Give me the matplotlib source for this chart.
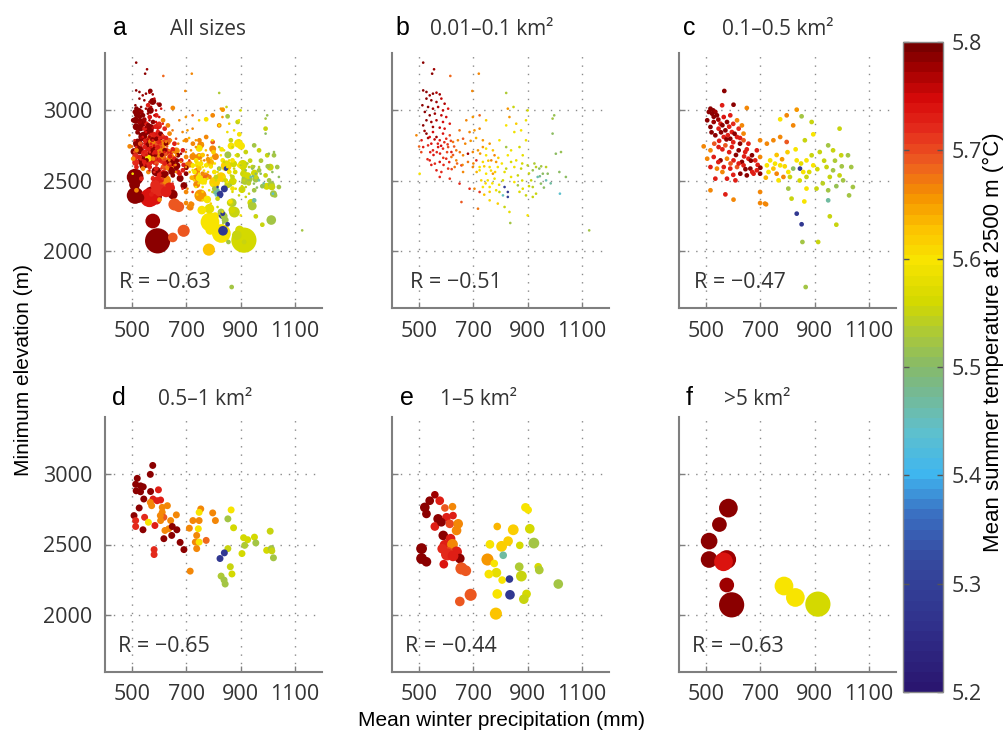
import matplotlib
matplotlib.use('Agg')
import matplotlib.pyplot as plt
from matplotlib.colors import LinearSegmentedColormap, Normalize
from matplotlib.cm import ScalarMappable

plt.rcParams['font.family'] = ['Open Sans', 'DejaVu Sans']

# ---------------- data ----------------
# panel b: 0.01-0.1 km2
prec_b = [515,527,539,551,564,576,527,545,564,582,594,512,533,551,570,588,607,521,539,558,582,600,527,545,564,588,613,515,551,576,594,
          490,509,527,539,551,564,576,588,600,613,625,643,662,686,704,723,649,674,698,723,747,515,533,551,570,588,607,619,637,662,680,698,717,735,
          539,558,576,600,619,637,656,680,711,564,582,607,631,662,698,723,576,613,649,686,704,723,656,717,502,
          735,747,760,772,778,766,784,747,735,723,760,790,747,772,729,753,778,809,735,760,784,760,790,821,833,827,851,796,821,839,827,839,851,821,815,827,827,809,796,833,836,815,
          858,876,894,900,894,870,882,858,876,864,900,919,931,943,937,956,913,882,894,919,931,949,968,992,998,992,1004,1023,1017,1041,1019,900,919,974,968,1127,864,839,851,
          515,555,548,615,720,696,821,848]
elev_b = [3136,3125,3101,3113,3120,3108,3078,3066,3054,3078,3042,3031,3019,3007,3019,2995,3007,2984,2960,2972,2960,2948,2925,2913,2925,2913,2901,2889,2878,2873,2866,
          2819,2784,2831,2807,2842,2807,2784,2831,2795,2819,2772,2784,2795,2842,2854,2866,2854,2925,2948,2960,2925,2736,2748,2713,2736,2725,2736,2701,2713,2678,2689,2701,2713,2736,
          2642,2619,2631,2654,2666,2642,2607,2631,2642,2572,2560,2584,2595,2560,2595,2572,2525,2513,2478,2442,2442,2419,2348,2301,2548,
          2784,2725,2760,2713,2678,2642,2631,2678,2631,2595,2595,2595,2548,2548,2501,2501,2513,2501,2454,2454,2431,2360,2337,2889,2948,3007,2842,2784,2736,2713,2678,2631,2595,2584,2454,2419,2384,2395,2419,2278,2200,2313,
          2901,2854,2925,2995,2784,2736,2678,2642,2584,2536,2607,2572,2595,2584,2525,2548,2501,2442,2395,2454,2407,2478,2501,2937,2960,2831,2689,2701,2560,2525,2407,2254,2384,2548,2595,2148,2466,2525,2489,
          3332,3285,3254,3238,3254,3132,3118,3019]
temp_b = [5.79,5.79,5.78,5.79,5.77,5.78,5.79,5.79,5.78,5.76,5.77,5.79,5.79,5.78,5.77,5.76,5.74,5.79,5.79,5.78,5.76,5.75,5.79,5.78,5.77,5.75,5.73,5.79,5.78,5.76,5.74,
          5.66,5.73,5.79,5.74,5.75,5.78,5.73,5.74,5.72,5.70,5.67,5.66,5.69,5.66,5.65,5.66,5.67,5.66,5.65,5.68,5.62,5.73,5.72,5.73,5.74,5.72,5.70,5.73,5.67,5.66,5.78,5.66,5.65,5.65,
          5.73,5.72,5.74,5.72,5.67,5.66,5.72,5.67,5.72,5.73,5.72,5.71,5.67,5.66,5.66,5.60,5.72,5.71,5.72,5.72,5.66,5.71,5.69,5.67,5.60,
          5.65,5.60,5.65,5.63,5.66,5.66,5.65,5.60,5.61,5.60,5.60,5.60,5.60,5.65,5.61,5.60,5.59,5.56,5.60,5.60,5.59,5.61,5.62,5.60,5.65,5.65,5.59,5.60,5.52,5.59,5.60,5.56,5.59,5.55,5.29,5.28,5.30,5.45,5.55,5.58,5.52,5.55,
          5.62,5.60,5.59,5.56,5.59,5.56,5.58,5.59,5.55,5.55,5.54,5.51,5.54,5.50,5.46,5.50,5.55,5.58,5.55,5.54,5.55,5.50,5.46,5.52,5.51,5.50,5.50,5.51,5.50,5.50,5.44,5.60,5.55,5.50,5.54,5.52,5.52,5.59,5.60,
          5.79,5.78,5.79,5.68,5.66,5.66,5.53,5.55]
# further panel-b glaciers in the dense parts of the cloud
prec_b2 = [520,533,545,557,569,581,593,605,617,629,541,553,565,577,589,603,611,625,640,650,
           508,500,531,545,590,620,660,670,690,710,
           700,712,725,740,755,765,780,792,805,815,745,770,795,760,740,
           880,905,925,950,960,905,880,945,985,870]
elev_b2 = [2850,2800,2760,2790,2760,2745,2770,2755,2780,2740,2700,2680,2700,2690,2660,2700,2630,2680,2620,2700,
           2700,2740,2650,2610,2610,2580,2610,2760,2780,2800,
           2620,2560,2690,2600,2640,2570,2560,2660,2620,2560,2480,2480,2470,2420,2400,
           2620,2550,2620,2600,2450,2460,2500,2530,2480,2420]
temp_b2 = [5.78,5.77,5.74,5.76,5.73,5.75,5.72,5.71,5.70,5.69,5.73,5.74,5.72,5.73,5.71,5.70,5.72,5.69,5.68,5.67,
           5.70,5.68,5.72,5.73,5.72,5.70,5.66,5.66,5.65,5.64,
           5.66,5.64,5.65,5.62,5.63,5.61,5.62,5.62,5.60,5.58,5.61,5.60,5.59,5.62,5.63,
           5.56,5.55,5.53,5.52,5.50,5.56,5.57,5.48,5.47,5.57]
area_b = 0.07

# panel c: 0.1-0.5 km2
prec_c = [567,516,526,534,522,510,559,601,650,540,
          565,589,504,528,553,577,614,632,516,546,
          571,595,620,638,534,565,589,614,638,656,
          491,516,546,571,595,620,644,669,687,504,
          528,553,577,601,632,656,681,699,516,540,
          565,589,614,638,663,687,626,650,675,699,
          534,577,608,516,571,601,699,721,699,724,
          748,773,797,736,754,724,748,773,730,760,
          785,767,803,821,809,834,846,858,870,889,
          895,870,834,852,889,797,773,821,895,864,
          919,950,992,968,998,1023,944,956,968,992,
          1005,1035,1041,1027,950,950,870,862,815,803,
          907,834,852,855,913,956,980,867,699,717]
elev_c = [3132,3007,2995,2984,2972,2984,3031,3035,3012,2960,
          2948,2960,2925,2913,2901,2913,2925,2889,2878,2866,
          2854,2842,2866,2831,2819,2807,2795,2807,2784,2760,
          2741,2713,2736,2748,2736,2713,2701,2678,2713,2654,
          2666,2642,2654,2642,2631,2654,2642,2666,2595,2584,
          2595,2584,2595,2607,2584,2572,2548,2536,2548,2548,
          2513,2513,2501,2431,2402,2365,2341,2332,2784,2760,
          2784,2807,2772,2642,2619,2607,2584,2607,2560,2548,
          2525,2501,2560,2584,2525,2642,2584,2560,2642,2678,
          2607,2525,3000,2953,2913,2960,2932,2889,2826,2784,
          2701,2748,2866,2713,2678,2678,2595,2525,2572,2536,
          2501,2595,2454,2395,2431,2360,2443,2352,2372,2443,
          2443,2266,2191,2066,2066,2247,2188,1748,2419,2337]
temp_c = [5.79,5.79,5.79,5.78,5.79,5.79,5.73,5.79,5.66,5.79,
          5.74,5.73,5.79,5.78,5.73,5.79,5.66,5.66,5.79,5.73,
          5.79,5.73,5.72,5.66,5.79,5.73,5.79,5.73,5.69,5.73,
          5.66,5.66,5.73,5.69,5.73,5.79,5.73,5.79,5.73,5.66,
          5.73,5.79,5.66,5.73,5.79,5.73,5.73,5.66,5.73,5.66,
          5.73,5.73,5.69,5.73,5.79,5.73,5.79,5.79,5.73,5.79,
          5.73,5.73,5.73,5.66,5.73,5.66,5.66,5.66,5.66,5.66,
          5.66,5.66,5.69,5.60,5.60,5.60,5.63,5.60,5.60,5.66,
          5.66,5.60,5.60,5.50,5.55,5.60,5.28,5.60,5.60,5.55,
          5.60,5.55,5.65,5.52,5.55,5.66,5.60,5.66,5.60,5.55,
          5.55,5.52,5.55,5.55,5.55,5.52,5.55,5.55,5.52,5.55,
          5.52,5.52,5.52,5.52,5.52,5.47,5.60,5.60,5.55,5.52,
          5.55,5.28,5.28,5.52,5.55,5.55,5.55,5.52,5.66,5.66]
prec_c2 = [528,545,560,585,600,520,555,580,605,625,548,575,600,625,650,530,560,585,610,640,
           665,690,545,590,620,645,670,700,560,600,
           800,830,760,780,850,880,910,935,975,1000,930,980,845,790,720]
elev_c2 = [2950,2930,2890,2880,2900,2840,2840,2820,2830,2800,2780,2790,2770,2760,2720,2760,2720,2700,2680,2670,
           2640,2610,2630,2620,2620,2580,2560,2590,2560,2540,
           2700,2720,2680,2650,2620,2560,2580,2640,2640,2600,2480,2460,2500,2600,2520]
temp_c2 = [5.79,5.78,5.79,5.73,5.72,5.79,5.79,5.73,5.79,5.73,5.73,5.79,5.73,5.79,5.73,5.69,5.73,5.73,5.79,5.73,
           5.79,5.73,5.73,5.69,5.73,5.79,5.73,5.79,5.66,5.73,
           5.62,5.60,5.63,5.65,5.58,5.57,5.56,5.55,5.53,5.52,5.54,5.51,5.56,5.61,5.64]
area_c = 0.3

# panel d: 0.5-1 km2
prec_d = [576,567,519,513,531,515,531,541,568,597,
          543,577,592,605,526,572,630,507,513,513,
          546,560,540,584,611,617,605,642,621,635,
          648,665,646,617,677,691,581,581,711,724,
          747,753,747,744,738,733,738,747,773,714,
          797,807,865,853,874,911,926,951,915,956,
          1009,905,996,1013,1015,1021,853,840,824,862,
          868,828,839,843,663,611,567,604]
elev_d = [3058,2995,2967,2925,2914,2879,2872,2907,2874,2886,
          2821,2821,2809,2814,2758,2774,2774,2704,2669,2627,
          2692,2657,2604,2634,2727,2692,2669,2669,2599,2611,
          2627,2604,2564,2541,2515,2464,2464,2429,2615,2669,
          2669,2751,2727,2611,2564,2517,2471,2517,2529,2312,
          2723,2669,2744,2681,2618,2548,2534,2552,2494,2511,
          2594,2436,2459,2471,2455,2406,2471,2441,2401,2343,
          2292,2277,2249,2221,2709,2762,2797,2704]
temp_d = [5.79,5.79,5.79,5.79,5.79,5.79,5.79,5.79,5.79,5.73,
          5.79,5.73,5.73,5.73,5.79,5.66,5.66,5.79,5.72,5.72,
          5.72,5.60,5.79,5.73,5.66,5.69,5.66,5.66,5.66,5.66,
          5.79,5.79,5.79,5.79,5.79,5.79,5.72,5.72,5.66,5.66,
          5.66,5.66,5.60,5.60,5.66,5.66,5.66,5.60,5.68,5.66,
          5.66,5.66,5.60,5.52,5.56,5.56,5.56,5.56,5.53,5.52,
          5.55,5.56,5.56,5.52,5.55,5.52,5.55,5.28,5.28,5.55,
          5.56,5.53,5.52,5.52,5.66,5.66,5.66,5.66]
area_d = 0.8

# panel e: 1-5 km2
prec_e = [558,576,539,521,527,595,623,570,558,601,
          613,644,638,589,616,595,623,638,607,509,
          509,527,650,591,656,672,690,650,582,625,
          892,902,788,847,908,923,761,828,804,871,
          810,752,777,869,939,943,785,757,877,806,
          833,896,788,835,886,1013,783,603,625,585]
elev_e = [2851,2809,2809,2762,2716,2758,2767,2681,2627,2692,
          2646,2646,2599,2564,2541,2494,2501,2448,2448,2471,
          2401,2378,2401,2361,2331,2315,2145,2098,2657,2704,
          2762,2744,2627,2604,2611,2510,2501,2524,2487,2494,
          2424,2394,2366,2343,2343,2320,2301,2291,2277,2249,
          2256,2151,2151,2145,2114,2221,2012,2430,2420,2470]
temp_e = [5.78,5.73,5.79,5.79,5.79,5.69,5.66,5.79,5.73,5.73,
          5.70,5.66,5.66,5.79,5.73,5.73,5.66,5.73,5.70,5.79,
          5.79,5.79,5.79,5.74,5.69,5.69,5.69,5.69,5.79,5.73,
          5.60,5.60,5.64,5.62,5.56,5.52,5.60,5.62,5.62,5.56,
          5.47,5.65,5.60,5.53,5.56,5.53,5.58,5.60,5.55,5.60,
          5.28,5.56,5.60,5.28,5.55,5.52,5.63,5.72,5.73,5.72]
area_e = [1.0,1.4,1.4,1.8,1.4,1.0,1.0,1.8,1.4,1.4,
          1.4,1.8,1.8,1.8,1.8,2.4,2.4,2.4,1.8,2.4,
          2.4,1.8,1.8,1.4,3.2,2.4,3.2,1.8,1.4,1.0,
          1.4,1.0,1.0,2.4,1.8,2.4,1.4,1.8,2.4,1.0,
          1.0,3.2,1.0,1.4,1.0,1.4,1.8,1.4,2.4,1.0,
          1.0,1.4,1.8,1.8,1.8,1.8,3.2,3.2,2.4,1.8]

# panel f: >5 km2
prec_f = [582, 549, 511, 511, 576, 564, 576, 594, 787, 829, 912]
elev_f = [2757, 2641, 2524, 2394, 2394, 2378, 2214, 2074, 2207, 2126, 2079]
temp_f = [5.79, 5.79, 5.79, 5.79, 5.78, 5.74, 5.78, 5.79, 5.60, 5.60, 5.56]
area_f = [9.5, 5.2, 7.1, 7.1, 9.5, 9.5, 5.2, 20, 9.5, 9.5, 20]

r_values = {'a': '\u22120.63', 'b': '\u22120.51', 'c': '\u22120.47',
            'd': '\u22120.65', 'e': '\u22120.44', 'f': '\u22120.63'}
titles = {'a': 'All sizes', 'b': '0.01\u20130.1 km\u00b2', 'c': '0.1\u20130.5 km\u00b2',
          'd': '0.5\u20131 km\u00b2', 'e': '1\u20135 km\u00b2', 'f': '>5 km\u00b2'}
xticks = [500, 700, 900, 1100]
yticks = [2000, 2500, 3000]
cbar_ticks = [5.2, 5.3, 5.4, 5.5, 5.6, 5.7, 5.8]

# ---------------- colours ----------------
anchors = [(5.20, '#2a1670'), (5.26, '#30318c'), (5.32, '#354a9f'), (5.36, '#3a6cc0'),
           (5.40, '#3fb6ef'), (5.44, '#5fc0cc'), (5.48, '#78b88c'), (5.50, '#86ba6a'),
           (5.53, '#aac83a'), (5.56, '#d2d800'), (5.60, '#f8e400'), (5.63, '#fcc200'),
           (5.66, '#f59200'), (5.69, '#ee6020'), (5.72, '#e52e1e'), (5.75, '#d80a0a'),
           (5.78, '#a00000'), (5.80, '#780000')]
vmin, vmax = 5.2, 5.8
cmap = LinearSegmentedColormap.from_list(
    'temp', [((v - vmin) / (vmax - vmin), c) for v, c in anchors], N=64)
norm = Normalize(vmin=vmin, vmax=vmax)


def msize(a):
    return 30.0 * a ** 0.8


def expand(vals, ref):
    if isinstance(vals, (int, float)):
        return [vals] * len(ref)
    return list(vals)


def joined(*lists):
    out = []
    for l in lists:
        out += list(l)
    return out


pb = joined(prec_b, prec_b2); eb = joined(elev_b, elev_b2); tb = joined(temp_b, temp_b2)
pc = joined(prec_c, prec_c2); ec = joined(elev_c, elev_c2); tc = joined(temp_c, temp_c2)

sets = {
    'b': (pb, eb, tb, expand(area_b, pb)),
    'c': (pc, ec, tc, expand(area_c, pc)),
    'd': (prec_d, elev_d, temp_d, expand(area_d, prec_d)),
    'e': (prec_e, elev_e, temp_e, area_e),
    'f': (prec_f, elev_f, temp_f, area_f),
}

W, H = 1006, 738
fig = plt.figure(figsize=(W / 100, H / 100), dpi=100)

lefts = [105, 392, 679]
bottoms = [308, 672]
AW, AH = 217, 255
letters = ['a', 'b', 'c', 'd', 'e', 'f']
letter_x = {'a': 113, 'b': 395, 'c': 683, 'd': 112, 'e': 400, 'f': 686}
title_x = {'a': 170, 'b': 430, 'c': 722, 'd': 158, 'e': 440, 'f': 724}
baseline = [35, 405]
r_x = {'a': 0.065, 'b': 0.085, 'c': 0.07, 'd': 0.06, 'e': 0.06, 'f': 0.06}

gray = '#7f7f7f'
txt = '#333333'

for i, key in enumerate(letters):
    row, col = divmod(i, 3)
    ax = fig.add_axes([lefts[col] / W, 1 - bottoms[row] / H, AW / W, AH / H])
    ax.set_xlim(400, 1200)
    ax.set_ylim(1600, 3400)
    ax.set_xticks(xticks)
    ax.set_yticks(yticks)
    ax.set_xticklabels([str(t) for t in xticks])
    if col == 0:
        ax.set_yticklabels([str(t) for t in yticks])
    else:
        ax.set_yticklabels([])
    for s in ['top', 'right']:
        ax.spines[s].set_visible(False)
    for s in ['left', 'bottom']:
        ax.spines[s].set_color(gray)
        ax.spines[s].set_linewidth(1.5)
    ax.grid(True, linestyle=(0, (1, 5)), color='#8a8a8a', linewidth=1.0)
    ax.set_axisbelow(True)
    ax.tick_params(direction='in', length=4, width=1, color=gray,
                   labelsize=15.5, labelcolor=txt, pad=9)

    if key == 'a':
        order = ['f', 'e', 'd', 'c', 'b']
    else:
        order = [key]
    for k in order:
        px, py, pt, pa = sets[k]
        n = min(len(px), len(py), len(pt), len(pa))
        ax.scatter(px[:n], py[:n], c=pt[:n], s=[msize(a) for a in pa[:n]],
                   cmap=cmap, norm=norm, edgecolors='none', zorder=3)

    ax.text(r_x[key], 0.078, 'R = ' + r_values[key], transform=ax.transAxes,
            ha='left', va='baseline', fontsize=15.5, color=txt, zorder=5)

    fig.text(letter_x[key] / W, 1 - baseline[row] / H, key, fontsize=18,
             family=['Liberation Sans', 'DejaVu Sans'], color='black',
             ha='left', va='baseline')
    fig.text(title_x[key] / W, 1 - baseline[row] / H, titles[key], fontsize=15,
             color=txt, ha='left', va='baseline')

# colorbar
cax = fig.add_axes([903 / W, 1 - 692 / H, 40 / W, 650 / H])
sm = ScalarMappable(norm=norm, cmap=cmap)
cb = fig.colorbar(sm, cax=cax, ticks=cbar_ticks)
cb.ax.set_yticklabels(['%.1f' % t for t in cbar_ticks])
cb.outline.set_edgecolor('#8a8a8a')
cb.outline.set_linewidth(1.0)
cax.tick_params(direction='in', length=4, width=1, color='#555555',
                labelsize=15.5, labelcolor=txt, left=True, right=True, pad=6)

fig.text(993 / W, 1 - 342 / H, 'Mean summer temperature at 2500 m (\u00b0C)',
         rotation=90, ha='center', va='center', fontsize=16,
         family=['Liberation Sans', 'DejaVu Sans'], color='black')
fig.text(24 / W, 1 - 370 / H, 'Minimum elevation (m)', rotation=90,
         ha='center', va='center', fontsize=15,
         family=['Liberation Sans', 'DejaVu Sans'], color='black')
fig.text(502 / W, 1 - 721 / H, 'Mean winter precipitation (mm)',
         ha='center', va='center', fontsize=15,
         family=['Liberation Sans', 'DejaVu Sans'], color='black')

fig.savefig('out.png', dpi=100)
